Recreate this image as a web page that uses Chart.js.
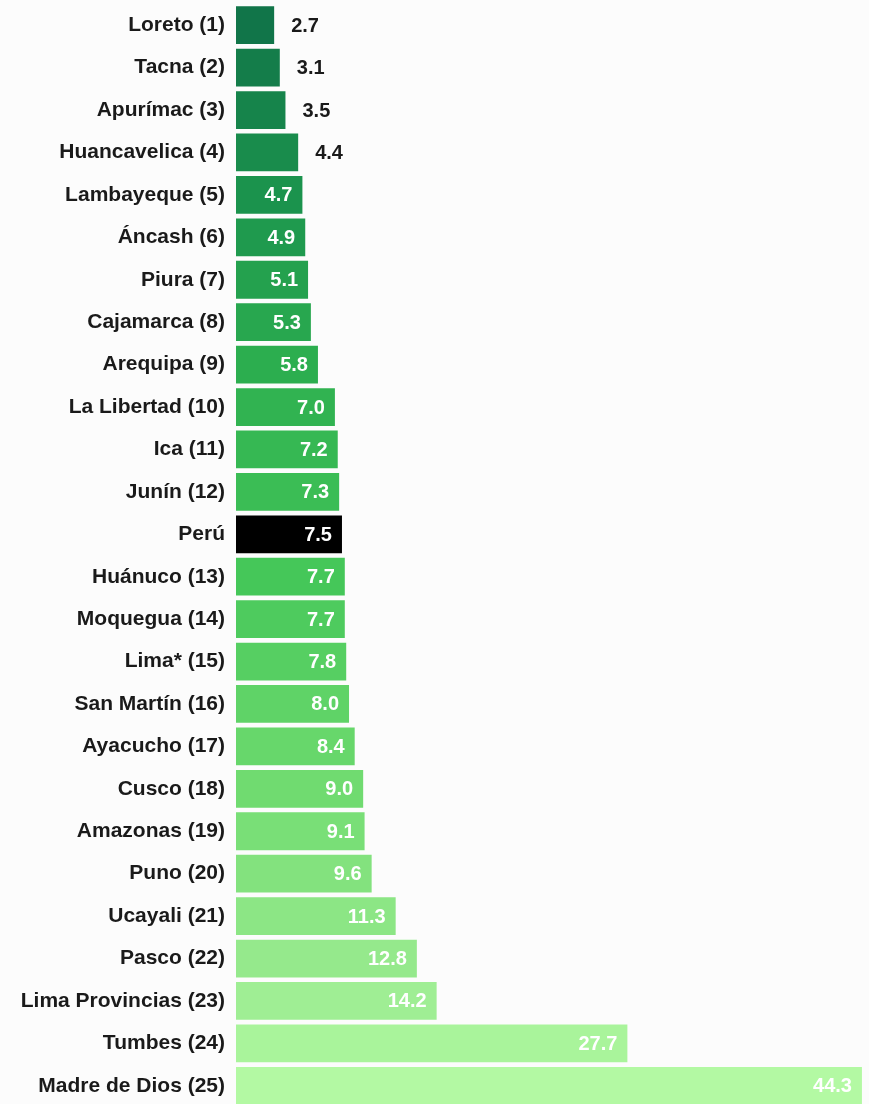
<!DOCTYPE html>
<html>
<head>
<meta charset="utf-8">
<script src="https://cdn.jsdelivr.net/npm/chart.js@4/dist/chart.umd.min.js"></script>
<style>
  html, body { margin: 0; padding: 0; background: #fcfcfc; overflow: hidden; }
  #wrap { position: relative; width: 869px; height: 1107px; }
</style>
</head>
<body>
<div id="wrap"><canvas id="rankChart"></canvas></div>
<script>
// Regions in ranking order, national average included
const regions = [
  'Loreto (1)', 'Tacna (2)', 'Apurímac (3)', 'Huancavelica (4)', 'Lambayeque (5)',
  'Áncash (6)', 'Piura (7)', 'Cajamarca (8)', 'Arequipa (9)', 'La Libertad (10)',
  'Ica (11)', 'Junín (12)', 'Perú', 'Huánuco (13)', 'Moquegua (14)', 'Lima* (15)',
  'San Martín (16)', 'Ayacucho (17)', 'Cusco (18)', 'Amazonas (19)', 'Puno (20)',
  'Ucayali (21)', 'Pasco (22)', 'Lima Provincias (23)', 'Tumbes (24)', 'Madre de Dios (25)'
];
const rates = [
  2.7, 3.1, 3.5, 4.4, 4.7, 4.9, 5.1, 5.3, 5.8, 7.0, 7.2, 7.3, 7.5,
  7.7, 7.7, 7.8, 8.0, 8.4, 9.0, 9.1, 9.6, 11.3, 12.8, 14.2, 27.7, 44.3
];
const nationalLabel = 'Perú';

// green ramp, dark at the top to pale at the bottom
const rampStops = [
  [0, [17, 117, 73]], [4, [27, 147, 77]], [8, [44, 174, 79]], [13, [69, 199, 89]],
  [18, [112, 219, 112]], [22, [149, 233, 140]], [25, [179, 249, 163]]
];
function rampColor(i) {
  for (let k = 0; k < rampStops.length - 1; k++) {
    const [a, ca] = rampStops[k], [b, cb] = rampStops[k + 1];
    if (i >= a && i <= b) {
      const t = (i - a) / (b - a);
      const c = ca.map((v, j) => Math.round(v + (cb[j] - v) * t));
      return `rgb(${c[0]},${c[1]},${c[2]})`;
    }
  }
  return 'rgb(179,249,163)';
}
const barColors = regions.map((r, i) => r === nationalLabel ? '#000000' : rampColor(i));

const FONT = "'Liberation Sans', Arial, sans-serif";

// value labels: inside the bar end when it fits, otherwise just after it
const valueLabels = {
  id: 'valueLabels',
  afterDatasetsDraw(chart) {
    const ctx = chart.ctx;
    const meta = chart.getDatasetMeta(0);
    ctx.save();
    ctx.font = 'bold 20px ' + FONT;
    ctx.textBaseline = 'middle';
    meta.data.forEach((bar, i) => {
      const txt = rates[i].toFixed(1);
      const w = bar.x - bar.base;
      if (w < 64) {
        ctx.fillStyle = '#1a1a1a';
        ctx.textAlign = 'left';
        ctx.fillText(txt, bar.x + 17, bar.y + 1);
      } else {
        ctx.fillStyle = '#ffffff';
        ctx.textAlign = 'right';
        ctx.fillText(txt, bar.x - 10, bar.y + 1);
      }
    });
    ctx.restore();
  }
};

new Chart(document.getElementById('rankChart'), {
  type: 'bar',
  data: {
    labels: regions,
    datasets: [{
      data: rates,
      backgroundColor: barColors,
      borderWidth: 0,
      categoryPercentage: 1,
      barPercentage: 0.89
    }]
  },
  options: {
    indexAxis: 'y',
    responsive: true,
    maintainAspectRatio: false,
    animation: false,
    layout: { padding: { top: 4, right: 0, bottom: 0, left: 0 } },
    plugins: { legend: { display: false }, tooltip: { enabled: false } },
    scales: {
      x: { display: false, min: 0, max: 44.8 },
      y: {
        grid: { display: false, drawTicks: false },
        border: { display: false },
        afterFit(scale) {
          scale.width = 236;
          scale.paddingTop = 0;
          scale.paddingBottom = 0;
        },
        ticks: {
          padding: 11,
          color: '#1a1a1a',
          font: { family: FONT, size: 21, weight: 'bold' }
        }
      }
    }
  },
  plugins: [valueLabels]
});
</script>
</body>
</html>
